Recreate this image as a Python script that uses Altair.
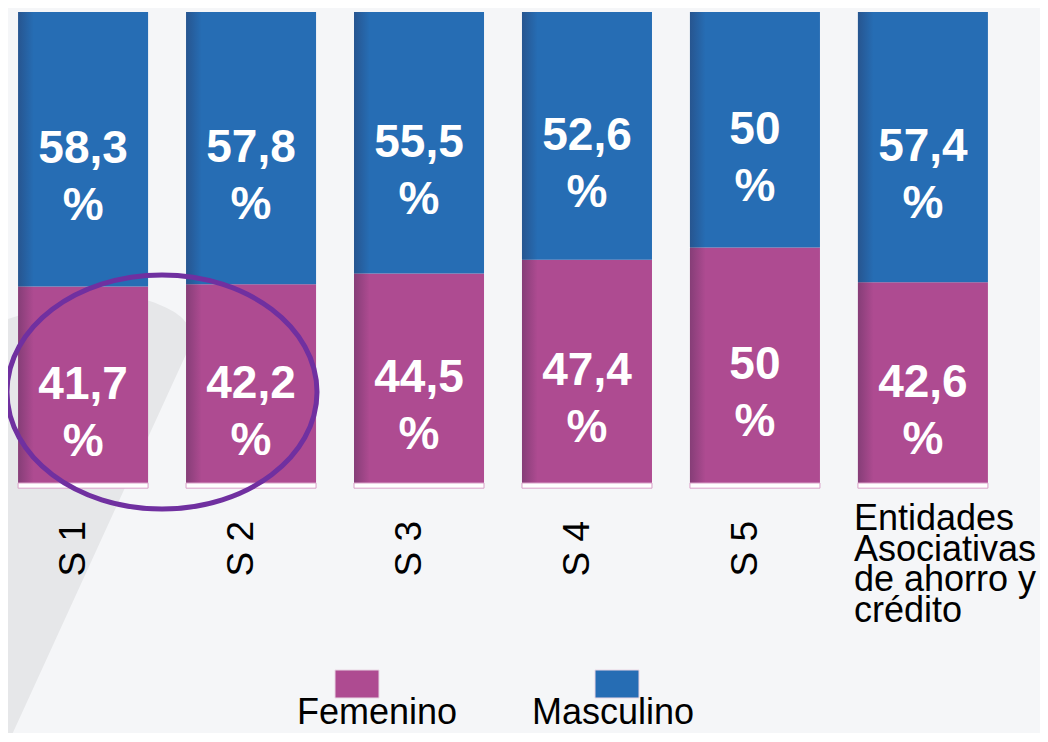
import altair as alt
import pandas as pd

# ---- data ----
categories = ["S 1", "S 2", "S 3", "S 4", "S 5", "Entidades"]
category_labels = ["S 1", "S 2", "S 3", "S 4", "S 5",
                   "Entidades\nAsociativas\nde ahorro y\ncrédito"]
femenino = [41.7, 42.2, 44.5, 47.4, 50, 42.6]
masculino = [58.3, 57.8, 55.5, 52.6, 50, 57.4]
series = ["Femenino", "Masculino"]
series_colors = ["#AE4B91", "#266DB4"]

FONT = "Liberation Sans"


def fmt(v):
    return ("%g" % v).replace(".", ",")


rows = []
for c, f, m in zip(categories, femenino, masculino):
    tot = f + m
    rows.append(dict(cat=c, sexo="Femenino", y0=0.0, y1=f / tot,
                     mid=f / tot / 2, label=fmt(f) + "\n%"))
    rows.append(dict(cat=c, sexo="Masculino", y0=f / tot, y1=1.0,
                     mid=f / tot + m / tot / 2, label=fmt(m) + "\n%"))
df = pd.DataFrame(rows)

df_cats = pd.DataFrame({"cat": categories, "label": category_labels,
                        "b0": [-0.011] * len(categories), "b1": [0.0] * len(categories)})
df_legend = pd.DataFrame({"sexo": series})

x_enc = alt.X("cat:N", sort=categories,
              scale=alt.Scale(paddingInner=0.226, paddingOuter=0.06),
              axis=None)
y_scale = alt.Scale(domain=[0, 1])
color_enc = alt.Color("sexo:N", scale=alt.Scale(domain=series, range=series_colors),
                      legend=None)

# decorative background swoosh (custom symbol path)
swoosh_path = ("M -0.04 -0.36 L 0 -0.356 C 0.12 -0.4 0.24 -0.43 0.32 -0.39 "
               "C 0.37 -0.37 0.395 -0.34 0.376 -0.3 L 0.01 0.5 L -0.04 0.5 Z")
swoosh = alt.Chart(pd.DataFrame({"k": [0]})).mark_point(
    shape=swoosh_path, filled=True, size=1000000, color="#E6E7E9",
    opacity=1, strokeWidth=0
).encode(x=alt.value(-8), y=alt.value(488))

bars = alt.Chart(df).mark_bar(strokeWidth=0).encode(
    x=x_enc,
    y=alt.Y("y0:Q", scale=y_scale, axis=None),
    y2="y1:Q",
    color=color_enc,
)

# soft shading on the left edge of each bar
shade = alt.Chart(df).mark_bar(
    strokeWidth=0,
    color=alt.Gradient(
        gradient="linear", x1=0, x2=1, y1=0, y2=0,
        stops=[alt.GradientStop(color="rgba(40,30,60,0.30)", offset=0),
               alt.GradientStop(color="rgba(40,30,60,0.0)", offset=0.12),
               alt.GradientStop(color="rgba(40,30,60,0.0)", offset=1)],
    ),
).encode(
    x=x_enc,
    y=alt.Y("y0:Q", scale=y_scale, axis=None),
    y2="y1:Q",
)

base_strip = alt.Chart(df_cats).mark_bar(
    color="#FFFFFF", stroke="#D9A0C8", strokeWidth=1
).encode(x=x_enc, y=alt.Y("b0:Q", scale=y_scale, axis=None), y2="b1:Q")

values = alt.Chart(df).mark_text(
    color="white", font=FONT, fontSize=46, fontWeight="bold",
    lineBreak="\n", lineHeight=57, baseline="middle", align="center"
).encode(
    x=x_enc,
    y=alt.Y("mid:Q", scale=y_scale, axis=None),
    text="label:N",
)

s_labels = alt.Chart(df_cats).transform_filter(
    alt.datum.cat != "Entidades"
).mark_text(
    font=FONT, fontSize=37, color="black", angle=270, align="right",
    baseline="alphabetic", dy=2
).encode(x=x_enc, y=alt.value(509), text="label:N")

ent_label = alt.Chart(df_cats).transform_filter(
    alt.datum.cat == "Entidades"
).mark_text(
    font=FONT, fontSize=36, color="black", align="left", baseline="top",
    lineBreak="\n", lineHeight=30.5, dx=-69
).encode(x=x_enc, y=alt.value(490), text="label:N")

# ellipse annotation
e = 0.755
k = round(0.5523 * e, 4)
ellipse_path = (f"M -1 0 C -1 {-k} -0.5523 {-e} 0 {-e} "
                f"C 0.5523 {-e} 1 {-k} 1 0 "
                f"C 1 {k} 0.5523 {e} 0 {e} "
                f"C -0.5523 {e} -1 {k} -1 0 Z")
ellipse = alt.Chart(pd.DataFrame({"k": [0]})).mark_point(
    shape=ellipse_path, filled=False, size=96100, stroke="#7030A0",
    strokeWidth=5, opacity=1
).encode(x=alt.value(154), y=alt.value(380))

# legend
rect_path = "M -1 -0.636 L 1 -0.636 L 1 0.636 L -1 0.636 Z"
legend_sym = alt.Chart(df_legend).mark_point(
    shape=rect_path, filled=True, size=1936, opacity=1,
    stroke="#E8D6E4", strokeWidth=1
).encode(
    x=alt.X("sexo:N", sort=series,
            scale=alt.Scale(type="point", range=[349, 609], padding=0),
            axis=None),
    y=alt.value(672),
    color=color_enc,
)
legend_txt = alt.Chart(df_legend).mark_text(
    font=FONT, fontSize=36, color="black", baseline="alphabetic", align="center"
).encode(
    x=alt.X("sexo:N", sort=series,
            scale=alt.Scale(type="point", range=[369, 605], padding=0),
            axis=None),
    y=alt.value(712),
    text="sexo:N",
)

main = alt.layer(swoosh, bars, shade, base_strip, values, s_labels, ent_label, ellipse)
legend = alt.layer(legend_sym, legend_txt).resolve_scale(x="independent")

chart = alt.layer(main, legend).resolve_scale(x="independent").properties(
    width=990, height=471,
    padding={"left": 0, "top": 4, "right": 42, "bottom": 250},
    autosize=alt.AutoSizeParams(type="none"),
).configure(background="#F5F6F8").configure_view(stroke=None)

chart.save("out.html", embed_options={"renderer": "svg", "actions": False})
